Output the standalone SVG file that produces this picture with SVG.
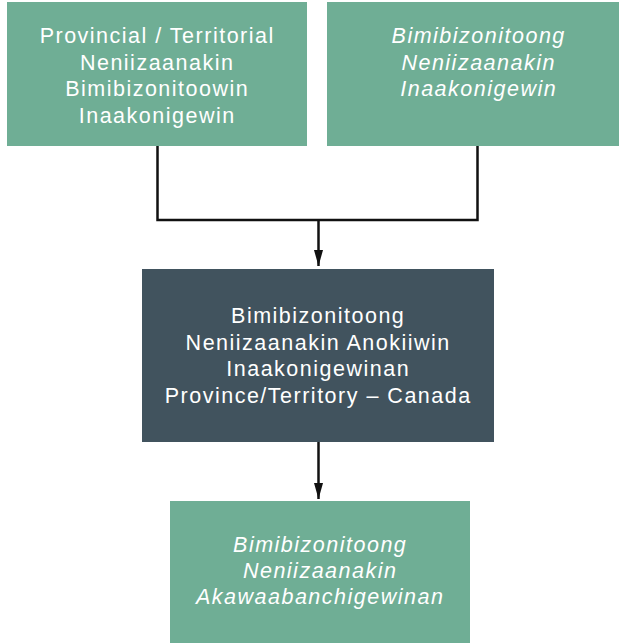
<svg xmlns="http://www.w3.org/2000/svg" width="619" height="643" viewBox="0 0 619 643">
<style>
.g{fill:#6fae95}
.d{fill:#41535e}
text{font-family:"Liberation Sans",Arial,Helvetica,sans-serif;font-size:21.5px;letter-spacing:1.5px;fill:#ffffff;text-anchor:middle}
.i{font-style:italic}
.c{stroke:#111;stroke-width:2.5;fill:none}
</style>
<defs>
<marker id="ah" markerUnits="userSpaceOnUse" markerWidth="17" markerHeight="9" refX="16" refY="4.5" orient="auto">
<path d="M0,0 L16,4.5 L0,9 z" fill="#111"/>
</marker>
</defs>
<rect width="619" height="643" fill="#fff"/>
<g id="connectors">
<path class="c" d="M157.5,146 V220 H477.5 V146"/>
<path class="c" d="M318.5,220 V266" marker-end="url(#ah)"/>
<path class="c" d="M318.5,442 V499" marker-end="url(#ah)"/>
</g>
<g id="node-provincial">
<rect class="g" x="7" y="2" width="300" height="144"/>
<text x="157.2" y="43">Provincial / Territorial</text>
<text x="157.2" y="69.5">Neniizaanakin</text>
<text x="157.2" y="96">Bimibizonitoowin</text>
<text x="157.2" y="122.5">Inaakonigewin</text>
</g>
<g id="node-bimibizonitoong">
<rect class="g" x="327" y="2" width="300" height="144"/>
<text class="i" x="478.7" y="43">Bimibizonitoong</text>
<text class="i" x="478.7" y="69.5">Neniizaanakin</text>
<text class="i" x="478.7" y="96">Inaakonigewin</text>
</g>
<g id="node-center">
<rect class="d" x="142" y="269" width="352" height="173"/>
<text x="318.2" y="323">Bimibizonitoong</text>
<text x="318.2" y="349.5">Neniizaanakin Anokiiwin</text>
<text x="318.2" y="376">Inaakonigewinan</text>
<text x="318.2" y="402.5">Province/Territory – Canada</text>
</g>
<g id="node-bottom">
<rect class="g" x="170" y="501" width="300" height="142"/>
<text class="i" x="320.2" y="551.5">Bimibizonitoong</text>
<text class="i" x="320.2" y="578">Neniizaanakin</text>
<text class="i" x="320.2" y="604">Akawaabanchigewinan</text>
</g>
</svg>
